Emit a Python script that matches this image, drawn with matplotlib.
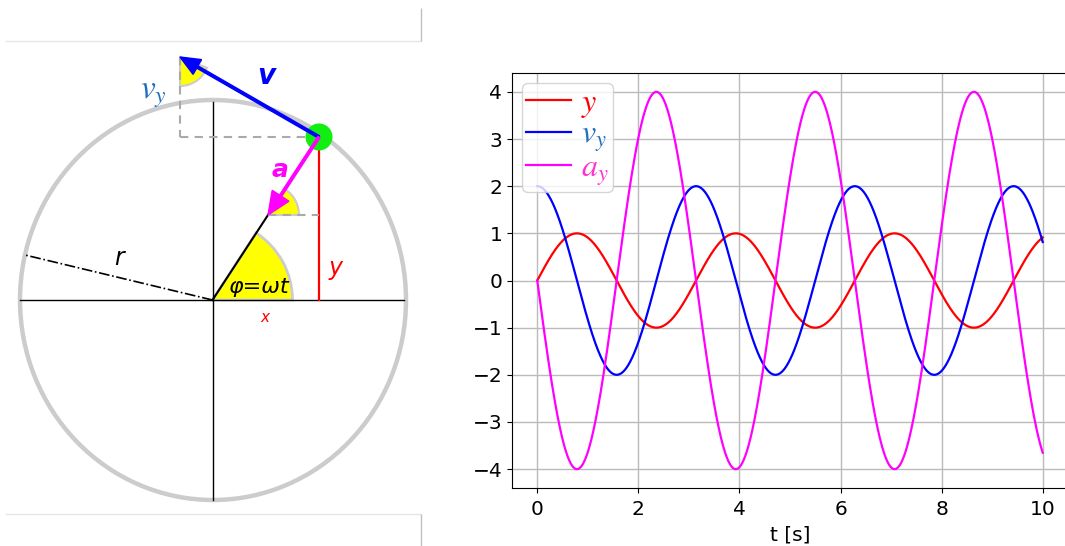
import numpy as np
import matplotlib
matplotlib.use("Agg")
import matplotlib.pyplot as plt
from matplotlib.patches import Ellipse, Wedge, Circle

# --- kinematics of uniform circular motion, projected on the y axis ---
t_start, t_end = 0.0, 10.0       # time span [s]
radius = 1.0                     # r
omega = 2.0                      # angular velocity [rad/s]
n_samples = 1000

series_labels = [r"$y$", r"$v_y$", r"$a_y$"]
series_colors = ["red", "blue", "magenta"]
label_colors = ["red", "#1f6fbf", "#ff33cc"]
x_ticks = [0, 2, 4, 6, 8, 10]
y_ticks = [-4, -3, -2, -1, 0, 1, 2, 3, 4]

t = np.linspace(t_start, t_end, n_samples)
y_pos = radius * np.sin(omega * t)
v_y = radius * omega * np.cos(omega * t)
a_y = -radius * omega ** 2 * np.sin(omega * t)

plt.rcParams["mathtext.fontset"] = "stix"

W, H = 1065, 546
fig = plt.figure(figsize=(W / 100, H / 100), dpi=100)

# ---------------- left: sketch of the rotating point ----------------
sk = fig.add_axes([0, 0, 430 / W, 1])
sk.set_xlim(0, 430)
sk.set_ylim(H, 0)
sk.axis("off")

# frame lines of the surrounding cell
for (xs, ys, c) in [((5, 421), (41, 41), "#e6e6e6"),
                    ((421, 421), (8, 41), "#c0c0c0"),
                    ((5, 421), (514, 514), "#e6e6e6"),
                    ((421, 421), (514, 546), "#c0c0c0")]:
    sk.plot(xs, ys, color=c, lw=1.0, solid_capstyle="butt")

O = (212.5, 300.0)
phi_deg = 57.0
P = (319.0, 137.0)
A_tip = (268.0, 215.0)
V_tip = (180.0, 57.0)

sk.add_patch(Ellipse((213, 300), 386, 400, fill=False, ec="#cccccc", lw=3.2))
sk.plot([20, 404], [300, 300], color="black", lw=1.0)
sk.plot([212.5, 212.5], [102, 500], color="black", lw=1.0)

# angle wedges
sk.add_patch(Wedge(O, 80, -phi_deg, 0, fc="yellow", ec="none"))
sk.add_patch(Wedge(O, 80, -phi_deg, 0, fill=False, ec="#cccccc", lw=2.0))
sk.add_patch(Wedge(A_tip, 31, -phi_deg, 0, fc="yellow", ec="none"))
sk.add_patch(Wedge(A_tip, 31, -phi_deg, 0, fill=False, ec="#cccccc", lw=1.5))
sk.add_patch(Wedge(V_tip, 29, 22, 90, fc="yellow", ec="none"))
sk.add_patch(Wedge(V_tip, 29, 22, 90, fill=False, ec="#cccccc", lw=1.5))

# radius r (dash-dot) and the line to the acceleration tip
sk.plot([O[0], 25], [O[1], 255], color="black", lw=1.2, ls="-.")
sk.plot([O[0], A_tip[0]], [O[1], A_tip[1]], color="black", lw=1.5)

# projections
sk.plot([P[0], P[0]], [P[1], 300], color="red", lw=1.6)
sk.plot([A_tip[0], P[0]], [A_tip[1], A_tip[1]], color="#aaaaaa", lw=1.5, ls=(0, (4, 3)))
sk.plot([V_tip[0], P[0]], [P[1], P[1]], color="#aaaaaa", lw=1.5, ls=(0, (4, 3)))
sk.plot([V_tip[0], V_tip[0]], [V_tip[1], P[1]], color="#aaaaaa", lw=1.5, ls=(0, (4, 3)))

# velocity and acceleration vectors
sk.arrow(P[0], P[1], V_tip[0] - P[0], V_tip[1] - P[1], width=2.6,
         head_width=17, head_length=20, length_includes_head=True,
         fc="blue", ec="blue", zorder=5)
sk.arrow(P[0], P[1], A_tip[0] - P[0], A_tip[1] - P[1], width=2.6,
         head_width=20, head_length=23, length_includes_head=True,
         fc="magenta", ec="magenta", zorder=5)

sk.add_patch(Circle(P, 13.5, fc="#11ee11", ec="none", zorder=4))

# labels
sk.text(266, 76, "v", color="blue", fontsize=20, fontweight="bold",
        style="italic", ha="center", va="center")
sk.text(280, 170, "a", color="magenta", fontsize=18, fontweight="bold",
        style="italic", ha="center", va="center")
sk.text(153, 94, r"$v_y$", color="#1f6fbf", fontsize=24, ha="center", va="center")
sk.text(336, 268, "y", color="red", fontsize=17, style="italic",
        ha="center", va="center")
sk.text(265, 318, "x", color="red", fontsize=11, style="italic",
        ha="center", va="center")
sk.text(119, 258, "r", color="black", fontsize=17, style="italic",
        ha="center", va="center")
sk.text(259, 287, "φ=ωt", color="black", fontsize=16, style="italic",
        ha="center", va="center")

# ---------------- right: time series ----------------
ax = fig.add_axes([512 / W, 1 - 488 / H, (1068 - 512) / W, (488 - 73) / H])
for vals, c, lab in zip([y_pos, v_y, a_y], series_colors, series_labels):
    ax.plot(t, vals, color=c, lw=1.6, label=lab)

ax.set_xticks(x_ticks)
ax.set_yticks(y_ticks)
ax.tick_params(labelsize=14.5)
ax.tick_params(axis="x", pad=5)
ax.set_xlabel("t [s]", fontsize=14.5, labelpad=5)
ax.grid(True, color="#bbbbbb", lw=1.0)

leg = ax.legend(loc="upper left", fontsize=23, handlelength=1.4,
                handletextpad=0.3, borderpad=0.15, labelspacing=-0.05,
                borderaxespad=0.3)
for txt, c in zip(leg.get_texts(), label_colors):
    txt.set_color(c)

fig.savefig("out.png", dpi=100)
